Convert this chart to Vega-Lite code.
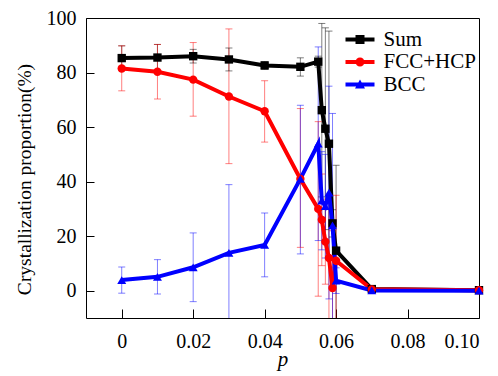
{
  "$schema": "https://vega.github.io/schema/vega-lite/v6.json",
  "autosize": "none",
  "width": 393,
  "height": 300,
  "padding": {"left": 86, "top": 18, "right": 19, "bottom": 58},
  "background": "white",
  "config": {
    "view": {"stroke": "black", "strokeWidth": 1},
    "font": "'Liberation Serif', 'Times New Roman', serif",
    "axis": {"grid": false, "domain": false, "labelFont": "'Liberation Serif', 'Times New Roman', serif", "labelFontSize": 20, "labelColor": "black", "titleFont": "'Liberation Serif', 'Times New Roman', serif", "titleFontSize": 21, "titleColor": "black", "titleFontWeight": "normal", "tickColor": "black", "tickWidth": 1},
    "legend": {"labelFont": "'Liberation Serif', 'Times New Roman', serif"}
  },
  "data": {
    "values": [
      {"p": 0, "s": "Sum", "v": 85.3, "lo": 80.8, "hi": 89.8},
      {"p": 0.01, "s": "Sum", "v": 85.5, "lo": 80.5, "hi": 90.3},
      {"p": 0.02, "s": "Sum", "v": 86.0, "lo": 83.5, "hi": 88.5},
      {"p": 0.03, "s": "Sum", "v": 84.8, "lo": 80.6, "hi": 89.0},
      {"p": 0.04, "s": "Sum", "v": 82.6, "lo": 81.2, "hi": 84.0},
      {"p": 0.05, "s": "Sum", "v": 82.1, "lo": 78.7, "hi": 85.4},
      {"p": 0.055, "s": "Sum", "v": 84.0, "lo": 82.0, "hi": 86.0},
      {"p": 0.056, "s": "Sum", "v": 66.2, "lo": 34.4, "hi": 98.0},
      {"p": 0.057, "s": "Sum", "v": 59.4, "lo": 22.4, "hi": 96.4},
      {"p": 0.058, "s": "Sum", "v": 53.9, "lo": 12.6, "hi": 95.2},
      {"p": 0.059, "s": "Sum", "v": 24.7, "lo": 19.7, "hi": 29.7},
      {"p": 0.06, "s": "Sum", "v": 14.7, "lo": -16.6, "hi": 46.0},
      {"p": 0.07, "s": "Sum", "v": 0.6, "lo": 0.2, "hi": 1.0},
      {"p": 0.1, "s": "Sum", "v": 0.2, "lo": 0.0, "hi": 0.4},
      {"p": 0, "s": "FCC+HCP", "v": 81.5, "lo": 73.3, "hi": 89.8},
      {"p": 0.01, "s": "FCC+HCP", "v": 80.3, "lo": 70.3, "hi": 90.3},
      {"p": 0.02, "s": "FCC+HCP", "v": 77.4, "lo": 64.0, "hi": 91.0},
      {"p": 0.03, "s": "FCC+HCP", "v": 71.2, "lo": 46.6, "hi": 96.0},
      {"p": 0.04, "s": "FCC+HCP", "v": 65.8, "lo": 54.5, "hi": 77.0},
      {"p": 0.05, "s": "FCC+HCP", "v": 41.0, "lo": 15.9, "hi": 66.8},
      {"p": 0.055, "s": "FCC+HCP", "v": 30.0, "lo": -2.0, "hi": 62.0},
      {"p": 0.056, "s": "FCC+HCP", "v": 26.0, "lo": 9.2, "hi": 42.8},
      {"p": 0.057, "s": "FCC+HCP", "v": 18.0, "lo": 2.4, "hi": 33.6},
      {"p": 0.058, "s": "FCC+HCP", "v": 12.0, "lo": -11.0, "hi": 35.0},
      {"p": 0.059, "s": "FCC+HCP", "v": 1.0, "lo": -20.0, "hi": 22.0},
      {"p": 0.06, "s": "FCC+HCP", "v": 11.0, "lo": -13.0, "hi": 35.0},
      {"p": 0.07, "s": "FCC+HCP", "v": 0.5, "lo": 0.1, "hi": 0.9},
      {"p": 0.1, "s": "FCC+HCP", "v": 0.2, "lo": 0.0, "hi": 0.4},
      {"p": 0, "s": "BCC", "v": 3.9, "lo": -0.9, "hi": 8.7},
      {"p": 0.01, "s": "BCC", "v": 5.1, "lo": -1.2, "hi": 11.4},
      {"p": 0.02, "s": "BCC", "v": 8.6, "lo": -4.0, "hi": 21.2},
      {"p": 0.03, "s": "BCC", "v": 13.9, "lo": -11.1, "hi": 38.9},
      {"p": 0.04, "s": "BCC", "v": 16.8, "lo": 5.1, "hi": 28.5},
      {"p": 0.05, "s": "BCC", "v": 41.0, "lo": 13.5, "hi": 68.0},
      {"p": 0.055, "s": "BCC", "v": 53.9, "lo": 18.4, "hi": 89.4},
      {"p": 0.056, "s": "BCC", "v": 33.0, "lo": 15.0, "hi": 51.0},
      {"p": 0.057, "s": "BCC", "v": 31.0, "lo": 12.0, "hi": 50.0},
      {"p": 0.058, "s": "BCC", "v": 36.0, "lo": -3.0, "hi": 75.0},
      {"p": 0.059, "s": "BCC", "v": 24.0, "lo": -17.0, "hi": 65.0},
      {"p": 0.06, "s": "BCC", "v": 3.7, "lo": -1.0, "hi": 8.4},
      {"p": 0.07, "s": "BCC", "v": 0.1, "lo": 0.0, "hi": 0.3},
      {"p": 0.1, "s": "BCC", "v": 0.0, "lo": 0.0, "hi": 0.2}
    ]
  },
  "encoding": {
    "x": {"field": "p", "type": "quantitative",
      "scale": {"domain": [-0.01, 0.1], "nice": false, "zero": false},
      "axis": {"values": [0, 0.02, 0.04, 0.06, 0.08, 0.1], "tickSize": -9, "labelPadding": 22,
        "labelExpr": "datum.value == 0 ? '0' : format(datum.value, '.2f')",
        "title": "p", "titleFontStyle": "italic", "titlePadding": -3}},
    "color": {"field": "s", "type": "nominal",
      "scale": {"domain": ["Sum", "FCC+HCP", "BCC"], "range": ["#000000", "#ff0000", "#0000ff"]},
      "legend": {
        "orient": "none", "legendX": 254, "legendY": 11, "title": null, "padding": 0,
        "symbolSize": 100, "symbolOffset": 9.5, "labelOffset": 13, "rowPadding": 0.5,
        "labelFontSize": 21, "labelColor": "black",
        "symbolStrokeWidth": 0,
        "encode": {"symbols": {"update": {
          "shape": {"signal": "datum.value === 'Sum' ? 'M-2.9,-0.4H2.9V0.4H-2.9Z M-0.9,-0.9H0.9V0.9H-0.9Z' : datum.value === 'BCC' ? 'M-2.9,-0.4H2.9V0.4H-2.9Z M0,-1.0L1.0,0.8L-1.0,0.8Z' : 'M-2.9,-0.4H2.9V0.4H-2.9Z M-0.9,0A0.9,0.9 0 1,1 0.9,0A0.9,0.9 0 1,1 -0.9,0Z'"},
          "fill": {"signal": "scale('color', datum.value)"},
          "fillOpacity": {"value": 1},
          "opacity": {"value": 1},
          "strokeWidth": {"value": 0}
        }}}
      }}
  },
  "layer": [
    {
      "mark": {"type": "rule", "strokeWidth": 1, "opacity": 0.5, "clip": true},
      "encoding": {
        "y": {"field": "lo", "type": "quantitative",
          "scale": {"domain": [-10, 100], "nice": false, "zero": false},
          "axis": {"values": [0, 20, 40, 60, 80, 100], "tickSize": -8, "labelPadding": 18,
            "title": "Crystallization proportion(%)", "titleFontSize": 19.5, "titleX": -62, "titleY": 161, "titleAngle": -90, "titleAlign": "center", "titleBaseline": "middle"}},
        "y2": {"field": "hi"}
      }
    },
    {
      "mark": {"type": "tick", "orient": "horizontal", "thickness": 1, "size": 7, "opacity": 0.5, "clip": true},
      "encoding": {"y": {"field": "lo", "type": "quantitative"}}
    },
    {
      "mark": {"type": "tick", "orient": "horizontal", "thickness": 1, "size": 7, "opacity": 0.5, "clip": true},
      "encoding": {"y": {"field": "hi", "type": "quantitative"}}
    },
    {
      "mark": {"type": "line", "strokeWidth": 4, "strokeJoin": "miter"},
      "encoding": {"y": {"field": "v", "type": "quantitative"}}
    },
    {
      "transform": [{"filter": "datum.s === 'Sum'"}],
      "mark": {"type": "point", "filled": true, "opacity": 1, "size": 70, "shape": "square"},
      "encoding": {"y": {"field": "v", "type": "quantitative"}}
    },
    {
      "transform": [{"filter": "datum.s === 'FCC+HCP'"}],
      "mark": {"type": "point", "filled": true, "opacity": 1, "size": 70, "shape": "circle"},
      "encoding": {"y": {"field": "v", "type": "quantitative"}}
    },
    {
      "transform": [{"filter": "datum.s === 'BCC'"}],
      "mark": {"type": "point", "filled": true, "opacity": 1, "size": 80, "shape": "triangle-up"},
      "encoding": {"y": {"field": "v", "type": "quantitative"}}
    }
  ]
}
